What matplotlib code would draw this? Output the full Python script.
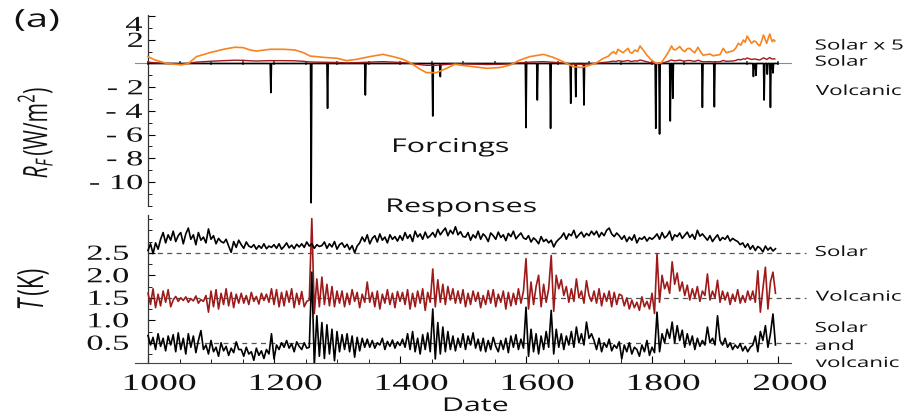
import numpy as np
import matplotlib
matplotlib.use("Agg")
import matplotlib.pyplot as plt
from matplotlib.ticker import MultipleLocator, FixedLocator, NullFormatter
from matplotlib.textpath import TextPath
from matplotlib.patches import PathPatch
from matplotlib.font_manager import FontProperties
from matplotlib.transforms import Affine2D, IdentityTransform

plt.rcParams["mathtext.fontset"] = "custom"
plt.rcParams["mathtext.rm"] = "Open Sans"
plt.rcParams["mathtext.it"] = "Open Sans:italic"

# ---------------- forcing data ----------------
# solar forcing (scaled by 5), W/m^2
solar5_years = [1000, 1011, 1030, 1053, 1064, 1077, 1098, 1120, 1138, 1151, 1162, 1172,
                1194, 1215, 1233, 1247, 1257, 1278, 1300, 1315, 1331, 1352, 1373, 1389,
                1405, 1416, 1432, 1442, 1458, 1474, 1487, 1495, 1516, 1538, 1559, 1575,
                1588, 1606, 1628, 1643, 1659, 1675, 1688, 1702, 1712, 1723, 1727, 1731,
                1735, 1739, 1743, 1746, 1750, 1754, 1758, 1762, 1765, 1768, 1773, 1777,
                1781, 1786, 1792, 1799, 1807, 1815, 1823, 1827, 1831, 1834, 1837, 1841,
                1844, 1848, 1852, 1856, 1860, 1864, 1868, 1873, 1877, 1881, 1887, 1892,
                1897, 1902, 1908, 1913, 1918, 1924, 1929, 1933, 1937, 1941, 1945, 1948,
                1951, 1955, 1958, 1962, 1965, 1968, 1971, 1974, 1977, 1980, 1982, 1985,
                1987, 1989, 1991, 1993, 1995]
solar5_vals = [0.58, 0.30, 0.00, -0.12, 0.00, 0.58, 0.91, 1.20, 1.37, 1.34, 1.14, 1.05,
               1.20, 1.20, 1.14, 0.91, 0.63, 0.52, 0.44, 0.24, 0.35, 0.58, 0.77, 0.58,
               0.35, 0.07, -0.49, -0.77, -0.77, -0.41, -0.07, -0.13, -0.27, -0.41, -0.34, -0.13,
               0.24, 0.58, 0.77, 0.52, 0.15, -0.27, -0.34, -0.13, 0.07, 0.44, 0.52, 0.63,
               0.85, 1.00, 0.80, 1.20, 1.05, 0.91, 1.10, 1.28, 0.95, 0.86, 1.14, 1.00,
               1.48, 1.14, 0.70, 0.30, 0.00, 0.07, 0.70, 1.05, 1.48, 1.20, 1.14, 1.30,
               1.43, 1.15, 1.00, 1.25, 1.28, 1.05, 0.91, 1.37, 1.00, 0.70, 0.75, 0.80,
               0.65, 0.70, 0.75, 1.28, 0.91, 1.00, 1.08, 1.30, 1.70, 1.55, 1.98, 1.80,
               2.32, 1.95, 1.70, 1.90, 1.84, 1.60, 1.48, 1.90, 2.40, 2.00, 1.70, 2.20,
               2.49, 2.10, 1.84, 2.00, 1.90]

# volcanic forcing events, W/m^2 (annual series is zero elsewhere)
volc_years = [1195, 1259, 1285, 1345, 1452, 1464, 1600, 1618, 1639, 1671, 1679, 1692,
              1806, 1812, 1829, 1833, 1880, 1899, 1961, 1963, 1965, 1978, 1983, 1988, 1992]
volc_peaks = [-2.46, -11.75, -3.78, -2.66, -4.43, -1.11, -5.41, -3.08, -5.47, -3.36, -2.80, -3.50,
              -5.47, -5.95, -4.85, -2.94, -3.70, -3.65, -1.10, -0.40, -1.00, -3.08, -0.90, -3.70, -0.80]

# ---------------- response data ----------------
# temperature anomalies in hundredths of K, one sample every 4 years from 1000
resp_start, resp_step = 1000, 4
resp_solar = [5, 20, -2, 22, 8,
              30, 45, 22, 40, 28, 48, 25, 38, 45, 20, 42, 55,
              30, 40, 18, 45, 28, 35, 22, 53, 30, 38, 20, 32, 25,
              22, 30, 15, 1, 25, 12, 28, 18, 10, 24, 15,
              12, 18, 8, 16, 10, 20, 9, 15, 12,
              18, 10, 20, 8, 14, 22, 11, 17, 9, 19, 13,
              20, 12, 24, 15, 20, 10, 18, 14,
              16, 24, 10, 20, 13, 25, 8, 18, 22, 12, 19, 7, 16, 0, 15,
              22, 35, 25, 40, 20, 32, 38, 24, 42, 28, 35, 22, 40, 30, 36, 26,
              38, 28, 45, 32, 40, 25, 48, 35, 42, 30, 46, 33, 38,
              45, 35, 52, 40, 48, 55, 38, 50, 42, 58, 40, 47, 36,
              35, 45, 28, 40, 33, 48, 30, 42, 36, 25, 44, 38, 30, 46, 34, 40, 27, 43, 36, 48, 31, 38, 44, 33,
              30, 38, 24, 33, 28, 20, 36, 25, 30, 22, 28, 13, 24, 30,
              35, 44, 30, 42, 38, 50, 33, 40, 46, 35, 43, 38, 48,
              40, 48, 35, 45, 38, 50, 55, 42, 36, 44, 38,
              30, 38, 25, 35, 28, 40, 22, 33, 30, 36, 26, 34, 30,
              35, 42, 30, 45, 33, 38, 48, 28, 40, 36, 44, 32, 39, 46, 34, 41, 30, 50, 37, 42,
              35, 28, 38, 25, 33, 40, 27, 34, 30, 38, 26, 32, 28,
              25, 18, 22, 12, 20, 8, 16, 5, 14, 10, 2, 15, 6, 12, 4, 9]
resp_volc = [10, -15, 20, -22, 8, -18, 15, -10, 18, -20,
             -5, 3, -8, 0, -6, 2, -10, -2, -7, 4, -12, -4, -8,
             5, -32, 15, -20, 18, -25, 10, -15, 20, -18, 12, -22, 8, -12,
             10, -12, 5, -15, 12, -8, 3, -14, 10, -6, 8, -10, 20,
             -15, 18, -20, 12, -18, 15, -10, 20, -22, 10, -15, 14, -20, -8,
             -5, 176, -35, 42, -20, 46, -15, 30, -18, 25, -20, 15,
             -12, 15, -20, 10, -15, 18, -8, 12, -22, 8, -10,
             35, -10, 12, -20, 15, -25, 8, -12, 18, -15, 10, -22, 14, -8, 12,
             -15, 18, -25, 10, -20, 15, -12, 20, -28, 12, -10,
             64, -20, 40, -10, 30, -15, 25, -5, 20, -12, 15,
             -12, 18, -20, 10, -15, 15, -8, 12, -22, 5, -15, 16, -12, 18, -20, 8, -10, 15, -25, 12, -18, 10, -15, 20, -12, 15,
             87, -25, 35, -15, 25, 50, -20, 30, -10, 20, 94, -30,
             50, 20, 40, 5, 25, -10, 20, -8, 42, 0, 15, -12, 38, 5, -8,
             15, -12, 20, -18, 10, -8, 15, -20, 12, -15, 8,
             5, -18, 0, -25, -5, -22, -10, -28, 2, -20, -8, -25, 10, -35,
             98, -10, 50, 20, 35, 10, 80, 30, 55, 15, 35, 5, 28, -5, 20, 0, 25, -8, 15,
             5, 53, -5, 15, 0, 39,
             -10, 15, -5, 12, -15, 8, -8, 18, -12, 5, -10, 15, -5,
             15, -10, 60, -32, 20, 68, -25, 35, 57, 10]
resp_both = [16, -5, 12, -15, 20, -8, 10, -18, 15, -5,
             18, -20, 22, -15, 10, -25, 20, -10, 15, -22, 5, 27, -15,
             -5, -25, 5, -20, -10, -30, 0, -18, -8, -28, -12, -22, 2, -15,
             -15, -30, -10, -25, -20, -39, -12, -28, -18, -35, -15,
             -25, 20,
             -36, -5, -15, 0, -10, 5, -12, -2, -20, 2, -8, -15, 0, -12,
             -10, 157, -50, 60, -30, 45, -35, 40, -25, 30, -40, 25, -20, 18,
             -15, 20, -20, 15, -32, 12, -18, 10, -10,
             8, -10, 5, -12, 0, -5, 10, -15, 3, -8, 6, -12, 2, -6, 8,
             -10, 20, -15, 25, -20, 10, -25, 18, -15, 22, -20,
             75, -36, 45, -25, 35, -20, 25, -15, 15, -18, 10,
             -10, 20, -15, 15, -5, 22, -12, 8, -18, 10, -20, 5, -15, 12, -8, -20, 5, -15, 10, -22, 15, -10, 18, -15, 8, -12,
             79, -30, 30, -20, 20, -25, 15, -15, 25, -10, 72, -25,
             30, -10, 20, -15, 15, -5, 25, -10, 35, 0, 20, -5, 46, 10, 20,
             5, -15, 10, -20, 0, -10, 8, -18, -5, -12, 2,
             -36, -5, -20, 0, -25, -10, -15, -30, -5, -20, 5, -28, -10, -22,
             68, -20, 20, 0, 30, 10, 46, 0, 38, 5, 28, -10, 20, -5, 15, -15, 10, -8, 5,
             -5, 35, 0, 10, -5, 60,
             5, -5, 10, -10, 0, -15, -5, -12, -2, -18, -8, -20, -10,
             -5, 15, -20, 25, 5, 38, -10, 20, 64, -5]
resp_offsets = [2.5, 1.5, 0.5]

forcing_ticks = [4, 2, -2, -4, -6, -8, -10]
temp_ticks = [2.5, 2.0, 1.5, 1.0, 0.5]
date_ticks = [1000, 1200, 1400, 1600, 1800, 2000]

ORANGE = "#f7841f"
DARKRED = "#9e1a1a"
SANS = "Open Sans"
SERIF = "Liberation Serif"
WIDEN = 1.6  # horizontal widening applied to all lettering

W, H = 909, 415
fig = plt.figure(figsize=(W / 100, H / 100), dpi=100)
fig.patch.set_facecolor("white")


def widetext(x, y, s, em, family=SANS, ha="center", va="center", rot=0,
             sx=WIDEN, color="#111111"):
    """Draw s as filled glyph outlines, widened horizontally by sx.
    x is in display pixels, y in pixels from the top of the figure."""
    tp = TextPath((0, 0), s, size=em, prop=FontProperties(family=family))
    p = Affine2D().rotate_deg(rot).scale(sx, 1).transform_path(tp)
    e = p.get_extents()
    x0 = {"left": e.x0, "center": 0.5 * (e.x0 + e.x1), "right": e.x1}[ha]
    y0 = {"bottom": e.y0, "center": 0.5 * (e.y0 + e.y1), "top": e.y1, "baseline": 0.0}[va]
    p = Affine2D().translate(x - x0, (H - y) - y0).transform_path(p)
    fig.add_artist(PathPatch(p, facecolor=color, edgecolor="none", lw=0,
                             transform=IdentityTransform()))


def to_px(ax, x, y):
    """Data coordinates -> (pixel x, pixel y from top)."""
    dx, dy = ax.transData.transform((x, y))
    return dx, H - dy


# ---------------- forcings panel ----------------
ax1 = fig.add_axes([135.4 / W, 1 - 205.7 / H, 655.2 / W, 190.8 / H])
ax1.set_xlim(980, 2020)
ax1.set_ylim(-12, 4.1)
ax1.patch.set_alpha(0)
for s in ("top", "right"):
    ax1.spines[s].set_visible(False)
ax1.spines["left"].set_position(("data", 1000))
ax1.spines["bottom"].set_position(("data", 0))
ax1.spines["bottom"].set_color("#8a8a8a")
ax1.spines["left"].set_color("#333333")
ax1.spines["left"].set_linewidth(0.9)

ax1.xaxis.set_major_locator(MultipleLocator(50))
ax1.xaxis.set_major_formatter(NullFormatter())
ax1.tick_params(axis="x", direction="inout", length=3, width=1.2, color="#444444")
ax1.yaxis.set_major_locator(FixedLocator(forcing_ticks))
ax1.yaxis.set_major_formatter(NullFormatter())
ax1.yaxis.set_minor_locator(MultipleLocator(1))
ax1.tick_params(axis="y", which="major", direction="in", length=5, width=0.8)
ax1.tick_params(axis="y", which="minor", direction="in", length=3, width=0.6)

yrs = np.arange(1000, 2001)
volc_forcing = np.zeros(yrs.size)
volc_forcing[np.array(volc_years) - 1000] = volc_peaks
solar5 = np.array(solar5_vals)

ax1.plot(yrs, volc_forcing, color="black", lw=1.2, zorder=3)
ax1.plot(solar5_years, solar5 / 5, color=DARKRED, lw=1.0, zorder=3)
ax1.plot(solar5_years, solar5, color=ORANGE, lw=1.2, zorder=4)

top_px = to_px(ax1, 1000, 4.1)[1]
for t in forcing_ticks:
    lx, ly = to_px(ax1, 1000, t)
    widetext(lx - 6, max(ly, top_px + 9), ("- %d" % -t) if t < 0 else "%d" % t, 21.5,
             family=SERIF, ha="right", va="center")

for txt, val, base in (("Solar x 5", 1.65, 49.5), ("Solar", 0.2, 65.7), ("Volcanic", -2.25, 95)):
    widetext(to_px(ax1, 2060, val)[0], base, txt, 14, ha="left", va="baseline")

# ---------------- responses panel ----------------
ax2 = fig.add_axes([135.4 / W, 1 - 363 / H, 655.2 / W, 148 / H])
ax2.set_xlim(980, 2020)
ax2.set_ylim(0.05, 3.34)
ax2.patch.set_alpha(0)
for s in ("top", "right"):
    ax2.spines[s].set_visible(False)
ax2.spines["left"].set_position(("data", 1000))
ax2.spines["left"].set_color("#333333")
ax2.spines["left"].set_linewidth(0.9)
ax2.spines["bottom"].set_color("#444444")

ax2.xaxis.set_major_locator(FixedLocator(date_ticks))
ax2.xaxis.set_minor_locator(MultipleLocator(50))
ax2.xaxis.set_major_formatter(NullFormatter())
ax2.tick_params(axis="x", which="major", direction="in", length=5, width=0.8)
ax2.tick_params(axis="x", which="minor", direction="in", length=3, width=0.6)
ax2.yaxis.set_major_locator(FixedLocator(temp_ticks))
ax2.yaxis.set_major_formatter(NullFormatter())
ax2.yaxis.set_minor_locator(MultipleLocator(0.25))
ax2.tick_params(axis="y", which="major", direction="in", length=5, width=0.8)
ax2.tick_params(axis="y", which="minor", direction="in", length=3, width=0.6)

for t in temp_ticks:
    lx, ly = to_px(ax2, 1000, t)
    widetext(lx - 20, ly, "%.1f" % t, 21.5, family=SERIF, ha="right", va="center")
for t in date_ticks:
    lx, _ = to_px(ax2, t, 0.05)
    widetext(lx + 12, 390, str(t), 23.5, family=SERIF, ha="center", va="baseline")

ryears = resp_start + resp_step * np.arange(len(resp_solar))
for off in resp_offsets:
    ax2.plot([1000, 2045], [off, off], ls=(0, (4, 3.5)), color="#555555", lw=0.9,
             clip_on=False, zorder=1)
ax2.plot(ryears, resp_offsets[1] + np.array(resp_volc) / 100, color=DARKRED, lw=1.2, zorder=3)
ax2.plot(ryears, resp_offsets[0] + np.array(resp_solar) / 100, color="black", lw=1.2, zorder=3)
ax2.plot(ryears, resp_offsets[2] + np.array(resp_both) / 100, color="black", lw=1.2, zorder=4)

rx = to_px(ax2, 2060, 0)[0]
for txt, base in (("Solar", 256), ("Volcanic", 300.7), ("Solar", 332), ("and", 350),
                  ("volcanic", 367)):
    widetext(rx, base, txt, 14, ha="left", va="baseline")

# ---------------- annotations ----------------
widetext(37, 20, "(a)", 25)
widetext(451, 152, "Forcings", 19, va="baseline")
widetext(462, 212, "Responses", 19, va="baseline")
widetext(476, 411, "Date", 19, va="baseline")
widetext(35, 133, r"$R_F\,$(W/m$^2$)", 21, rot=90)
widetext(33, 289, r"$T\,$(K)", 22.5, rot=90)

fig.savefig("out.png", dpi=100)
